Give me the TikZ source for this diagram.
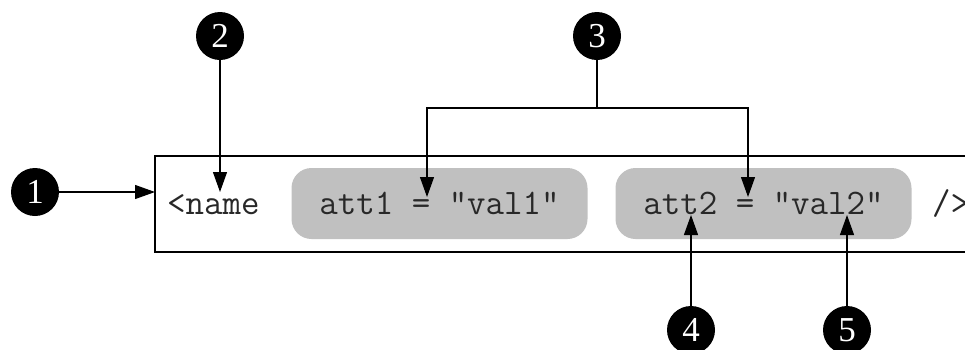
\documentclass[tikz,border=0pt]{standalone}
\usepackage{fontspec}
\usetikzlibrary{arrows.meta}
\newfontfamily\codefont{Latin Modern Mono}
\newfontfamily\numfont{Liberation Serif}
\definecolor{attrgray}{RGB}{192,192,192}
\definecolor{codeink}{RGB}{40,40,40}
\tikzset{
  callout/.style={circle, fill=black, minimum size=48pt, inner sep=0pt,
    text=white, font=\numfont\fontsize{35}{35}\selectfont},
  attrbox/.style={rounded corners=20pt, fill=attrgray, draw=none,
    minimum width=296pt, minimum height=71pt, inner sep=0pt},
  codetext/.style={anchor=base, inner sep=0pt, text=codeink,
    font=\codefont\fontsize{35.9}{40}\selectfont},
  pointer/.style={line width=1.2pt, -{Triangle[length=20pt,width=14pt]}},
}
\begin{document}
\begin{tikzpicture}[x=1pt, y=-1pt]
  \useasboundingbox (0,0) rectangle (965,349);
  \clip (0,0) rectangle (965,349);

  % element frame, running past the right edge
  \draw[line width=1.8pt] (975,156) -- (155,156) -- (155,252) -- (975,252);

  % attribute groups
  \node[attrbox] (att1) at (439.5,203.5) {};
  \node[attrbox] (att2) at (763.5,203.5) {};

  % source text
  \node[codetext, anchor=base west] (tagopen) at (167,214) {<name};
  \node[codetext] (att1txt) at (439.5,214) {att1 = "val1"};
  \node[codetext] (att2txt) at (763.5,214) {att2 = "val2"};
  \node[codetext, anchor=base west] (tagclose) at (932,214) {/>};

  % numbered callouts
  \node[callout] (c1) at (35,192) {1};
  \node[callout] (c2) at (220,36) {2};
  \node[callout] (c3) at (597,36) {3};
  \node[callout] (c4) at (691,330) {4};
  \node[callout] (c5) at (847,330) {5};

  % arrow targets
  \coordinate (t1) at (155,192);
  \coordinate (t2) at (220,192);
  \coordinate (split) at (597,108);
  \coordinate (t3a) at (427,197);
  \coordinate (t3b) at (748,197);
  \coordinate (t4) at (691,215);
  \coordinate (t5) at (847,215);

  \draw[pointer] (c1) -- (t1);
  \draw[pointer] (c2) -- (t2);
  \draw[line width=1.2pt] (c3) -- (split);
  \draw[pointer] (split) -| (t3a);
  \draw[pointer] (split) -| (t3b);
  \draw[pointer] (c4) -- (t4);
  \draw[pointer] (c5) -- (t5);
\end{tikzpicture}
\end{document}
